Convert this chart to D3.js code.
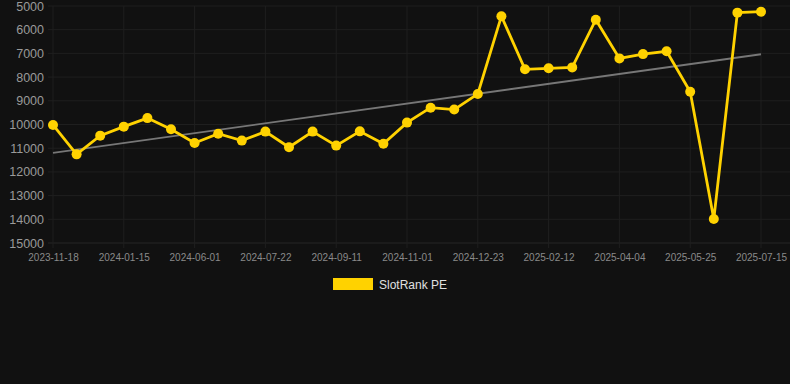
<!DOCTYPE html>
<html>
<head>
<meta charset="utf-8">
<script src="https://cdn.jsdelivr.net/npm/d3@7"></script>
<style>
  html, body { margin: 0; padding: 0; background: #111111; }
  svg { display: block; font-family: "Liberation Sans", Arial, sans-serif; }
</style>
</head>
<body>
<div id="chart"></div>
<script>
// категории (даты), значения рейтинга, подписи оси
const dates = [
  "2023-11-18", "2023-12-07", "2023-12-26", "2024-01-15", "2024-02-20", "2024-04-10",
  "2024-06-01", "2024-06-18", "2024-07-05", "2024-07-22", "2024-08-08", "2024-08-25",
  "2024-09-11", "2024-09-28", "2024-10-15", "2024-11-01", "2024-11-18", "2024-12-06",
  "2024-12-23", "2025-01-09", "2025-01-26", "2025-02-12", "2025-03-01", "2025-03-18",
  "2025-04-04", "2025-04-21", "2025-05-08", "2025-05-25", "2025-06-11", "2025-06-28",
  "2025-07-15"
];
const rank = [
  10020, 11260, 10470, 10090, 9730, 10200, 10780, 10390, 10680, 10300, 10960,
  10300, 10890, 10290, 10810, 9920, 9290, 9370, 8710, 5430, 7670, 7630, 7590,
  5580, 7210, 7030, 6910, 8620, 13990, 5280, 5240
];
const yTicks = [5000, 6000, 7000, 8000, 9000, 10000, 11000, 12000, 13000, 14000, 15000];
const seriesName = "SlotRank PE";

const W = 790, H = 384;
const margin = { top: 6, right: 29, bottom: 141, left: 53 };
const innerW = W - margin.left - margin.right;
const innerH = H - margin.top - margin.bottom;

const svg = d3.select("#chart").append("svg")
  .attr("width", W)
  .attr("height", H);

svg.append("rect").attr("width", W).attr("height", H).attr("fill", "#111111");

const g = svg.append("g")
  .attr("transform", `translate(${margin.left},${margin.top})`);

const x = d3.scalePoint().domain(dates).range([0, innerW]);
const y = d3.scaleLinear().domain([5000, 15000]).range([0, innerH]);

const shown = dates.filter((d, i) => i % 3 === 0);

// сетка
g.append("g")
  .selectAll("line")
  .data(yTicks)
  .join("line")
  .attr("x1", -5).attr("x2", innerW + margin.right)
  .attr("y1", d => y(d)).attr("y2", d => y(d))
  .attr("stroke", d => d === 15000 ? "#262626" : "#1f1f1f")
  .attr("stroke-width", 1);

g.append("g")
  .selectAll("line")
  .data(shown)
  .join("line")
  .attr("x1", d => x(d)).attr("x2", d => x(d))
  .attr("y1", 0).attr("y2", innerH + 5)
  .attr("stroke", "#1f1f1f")
  .attr("stroke-width", 1);

// оси
const yAxis = g.append("g")
  .call(d3.axisLeft(y).tickValues(yTicks).tickSize(0).tickPadding(9).tickFormat(d3.format("d")));
yAxis.select(".domain").remove();
yAxis.selectAll("text")
  .attr("fill", "#9a9a9a")
  .style("font-size", "12.5px");

const xAxis = g.append("g")
  .attr("transform", `translate(0,${innerH})`)
  .call(d3.axisBottom(x).tickValues(shown).tickSize(0).tickPadding(11));
xAxis.select(".domain").remove();
xAxis.selectAll("text")
  .attr("fill", "#8a8a8a")
  .style("font-size", "10px");

// линия тренда (регрессия)
const idx = rank.map((v, i) => i);
const mx = d3.mean(idx), my = d3.mean(rank);
const slope = d3.sum(idx, i => (i - mx) * (rank[i] - my)) / d3.sum(idx, i => (i - mx) ** 2);
const icpt = my - slope * mx;
const trend = [0, dates.length - 1].map(i => ({ d: dates[i], v: icpt + slope * i }));

g.append("path")
  .datum(trend)
  .attr("d", d3.line().x(p => x(p.d)).y(p => y(p.v)))
  .attr("fill", "none")
  .attr("stroke", "#777777")
  .attr("stroke-width", 1.8);

// серия
const pts = dates.map((d, i) => ({ d, v: rank[i] }));
g.append("path")
  .datum(pts)
  .attr("d", d3.line().x(p => x(p.d)).y(p => y(p.v)))
  .attr("fill", "none")
  .attr("stroke", "#FFD200")
  .attr("stroke-width", 2.8)
  .attr("stroke-linejoin", "miter");

g.append("g")
  .selectAll("circle")
  .data(pts)
  .join("circle")
  .attr("cx", p => x(p.d))
  .attr("cy", p => y(p.v))
  .attr("r", 5)
  .attr("fill", "#FFD200");

// легенда
const leg = svg.append("g").attr("transform", "translate(333,278)");
leg.append("rect").attr("width", 40).attr("height", 12).attr("fill", "#FFD200");
leg.append("text")
  .attr("x", 46).attr("y", 10.5)
  .attr("fill", "#e0e0e0")
  .style("font-size", "12px")
  .text(seriesName);
</script>
</body>
</html>
